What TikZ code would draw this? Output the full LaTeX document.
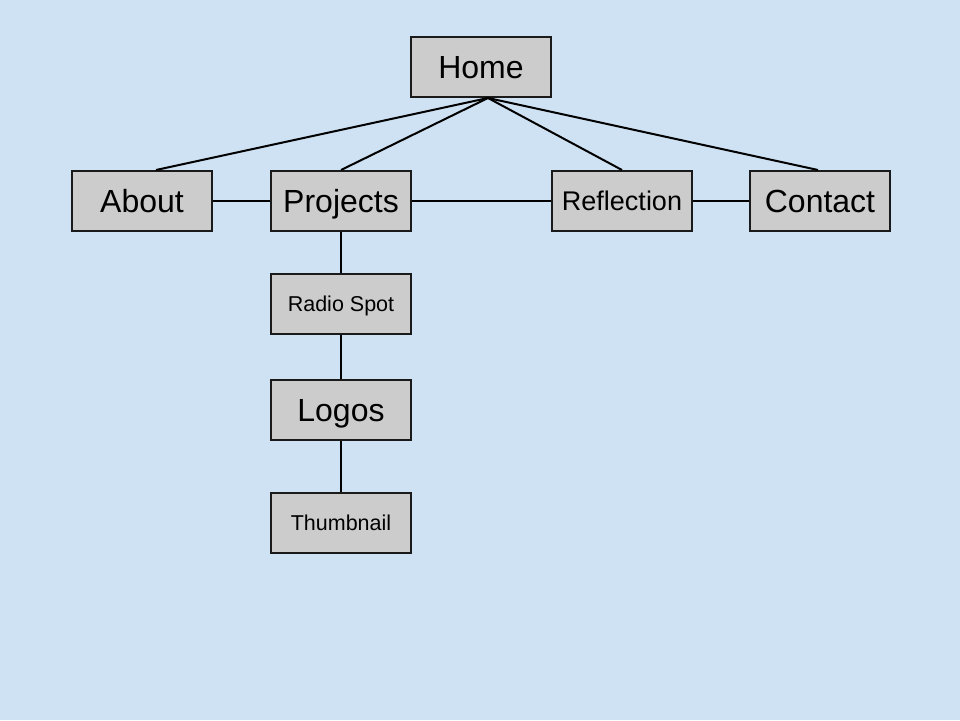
\documentclass[tikz,border=0pt]{standalone}
\usepackage{fontspec}
\setmainfont{Liberation Sans}
\usetikzlibrary{calc}
\definecolor{bgblue}{HTML}{CFE2F3}
\definecolor{boxgray}{HTML}{CCCCCC}
\definecolor{edge}{HTML}{1A1A1A}
\tikzset{
  pagebox/.style={draw=edge, fill=boxgray, line width=2pt, minimum width=140pt, minimum height=60pt, inner sep=0pt, text depth=0pt, anchor=north west},
  bigtext/.style={font=\fontsize{32}{32}\selectfont, text height=23pt},
  midtext/.style={font=\fontsize{27}{27}\selectfont, text height=19.3pt},
  smalltext/.style={font=\fontsize{21.5}{21.5}\selectfont, text height=15.4pt},
  link/.style={draw=black, line width=2pt}
}
\begin{document}
\begin{tikzpicture}[x=1pt,y=-1pt]
\fill[bgblue] (0,0) rectangle (960,720);
\useasboundingbox (0,0) rectangle (960,720);
\node[pagebox, bigtext] (home) at (410,36) {Home};
\node[pagebox, bigtext] (about) at (71,170) {About};
\node[pagebox, bigtext] (projects) at (270,170) {Projects};
\node[pagebox, midtext] (reflection) at (551,170) {Reflection};
\node[pagebox, bigtext] (contact) at (749,170) {Contact};
\node[pagebox, smalltext] (radio) at (270,273) {Radio Spot};
\node[pagebox, bigtext] (logos) at (270,379) {Logos};
\node[pagebox, smalltext] (thumb) at (270,492) {Thumbnail};
\coordinate (hb) at ($(home.south)+(7,0)$);
\draw[link] (hb) -- ($(about.north)+(14,0)$);
\draw[link] (hb) -- ($(projects.north)+(0,0)$);
\draw[link] (hb) -- ($(reflection.north)+(0,0)$);
\draw[link] (hb) -- ($(contact.north)+(-2,0)$);
\draw[link] (about.east) -- (projects.west);
\draw[link] (projects.east) -- (reflection.west);
\draw[link] (reflection.east) -- (contact.west);
\draw[link] (projects.south) -- (radio.north);
\draw[link] (radio.south) -- (logos.north);
\draw[link] (logos.south) -- (thumb.north);
\end{tikzpicture}
\end{document}
